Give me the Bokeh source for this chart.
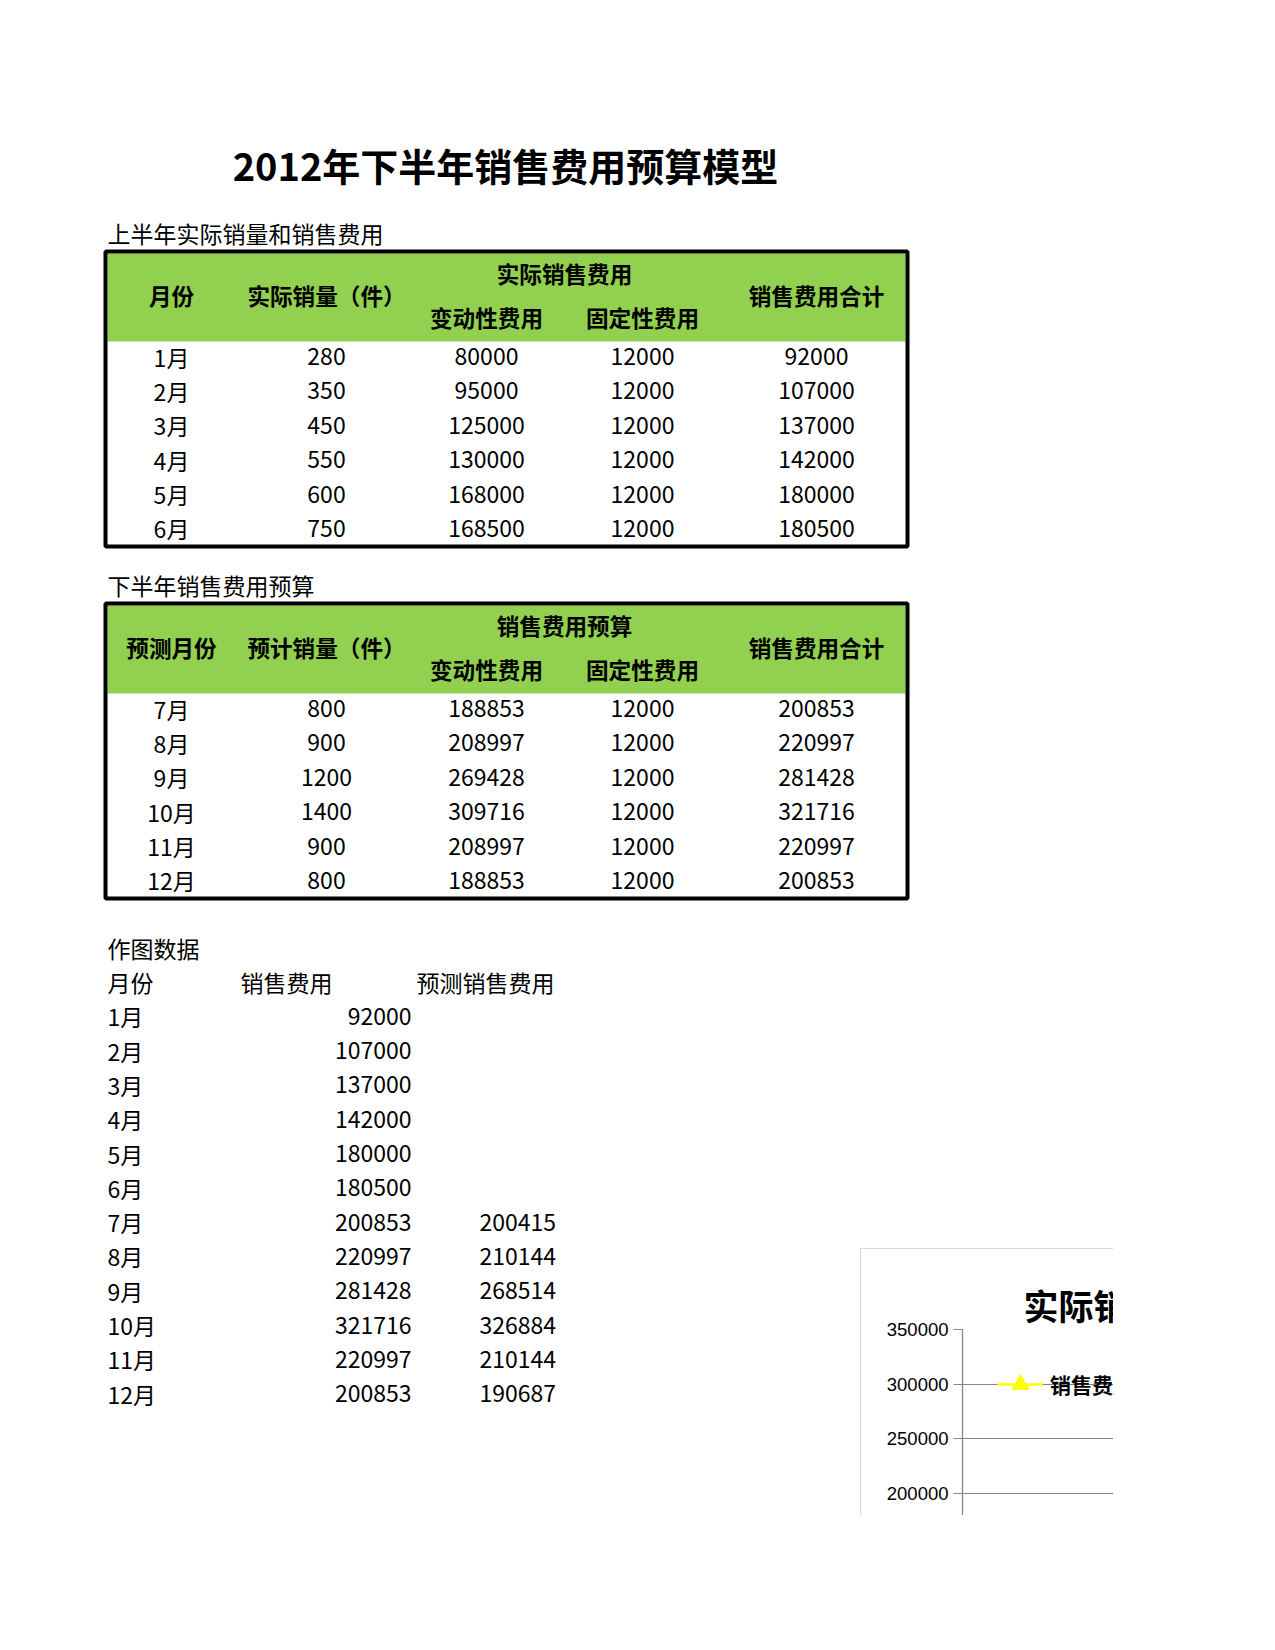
from bokeh.plotting import figure
from bokeh.layouts import column, row
from bokeh.models import (Range1d, ColumnDataSource, Legend, LegendItem,
                          SingleIntervalTicker, NumeralTickFormatter)
from bokeh.core.properties import value
from bokeh.embed import file_html
from bokeh.resources import INLINE

# ---------------- data ----------------
title_text = "2012年下半年销售费用预算模型"
t1_label = "上半年实际销量和销售费用"
t2_label = "下半年销售费用预算"
chart_label = "作图数据"

h1_months = ["1月", "2月", "3月", "4月", "5月", "6月"]
h1_qty = [280, 350, 450, 550, 600, 750]
h1_var = [80000, 95000, 125000, 130000, 168000, 168500]
h1_fixed = [12000, 12000, 12000, 12000, 12000, 12000]
h1_total = [92000, 107000, 137000, 142000, 180000, 180500]

h2_months = ["7月", "8月", "9月", "10月", "11月", "12月"]
h2_qty = [800, 900, 1200, 1400, 900, 800]
h2_var = [188853, 208997, 269428, 309716, 208997, 188853]
h2_fixed = [12000, 12000, 12000, 12000, 12000, 12000]
h2_total = [200853, 220997, 281428, 321716, 220997, 200853]

forecast = [200415, 210144, 268514, 326884, 210144, 190687]

t1_headers = ["月份", "实际销量（件）", "实际销售费用", "变动性费用", "固定性费用", "销售费用合计"]
t2_headers = ["预测月份", "预计销量（件）", "销售费用预算", "变动性费用", "固定性费用", "销售费用合计"]
data_headers = ["月份", "销售费用", "预测销售费用"]

series_names = ["销售费用", "预测销售费用"]
chart_title = "实际销售费用与预测销售费用对比"

all_months = h1_months + h2_months
all_sales = h1_total + h2_total

# ---------------- layout constants ----------------
FONT = "Noto Sans CJK SC"
GREEN = "#92D050"
PAGE_W = 1200
PAGE_H = 1515
CHART_X0, CHART_Y0 = 860, 1248
CHART_W, CHART_H = 1113 - CHART_X0, PAGE_H - CHART_Y0
TEXT_DY = -2.7

page = figure(width=PAGE_W, height=PAGE_H, x_range=Range1d(0, PAGE_W), y_range=Range1d(PAGE_H, 0),
              output_backend="svg", toolbar_location=None, min_border=0,
              x_axis_location=None, y_axis_location=None)
page.grid.visible = False
page.outline_line_color = None


def put(p, xs, ys, texts, size, bold=False, align="center", dy=TEXT_DY):
    src = ColumnDataSource(dict(x=xs, y=[y + dy for y in ys], t=[str(t) for t in texts]))
    p.text(x="x", y="y", text="t", source=src, text_font=value(FONT),
           text_font_size=value(f"{size}px"),
           text_font_style="bold" if bold else "normal",
           text_align=align, text_baseline="middle", text_color="#000000")


# title
put(page, [505], [164], [title_text], 38, bold=True, dy=0)

COLS = [171, 326, 486, 642, 816]
ROW_H = 34.35


def table(p, dy, label, headers, months, qty, var, fixed, total):
    put(p, [107], [235.5 + dy], [label], 23, align="left")
    p.quad(left=[107], right=[905], top=[253 + dy], bottom=[341 + dy],
           fill_color=GREEN, line_color=None)
    p.quad(left=[105], right=[907], top=[251 + dy], bottom=[546 + dy],
           fill_color=None, line_color="#000000", line_width=4)
    hx = [COLS[0], COLS[1], (COLS[2] + COLS[3]) / 2, COLS[2], COLS[3], COLS[4]]
    hy = [298, 298, 276, 320, 320, 298]
    put(p, hx, [y + dy for y in hy], headers, 22.6, bold=True)
    n = len(months)
    ys = [358.8 + dy + i * ROW_H for i in range(n)]
    for cx, vals in zip(COLS, [months, qty, var, fixed, total]):
        put(p, [cx] * n, ys, vals, 23)


table(page, 0, t1_label, t1_headers, h1_months, h1_qty, h1_var, h1_fixed, h1_total)
table(page, 352, t2_label, t2_headers, h2_months, h2_qty, h2_var, h2_fixed, h2_total)

# chart data block
put(page, [107], [950], [chart_label], 23, align="left")
put(page, [107, 240, 416], [984] * 3, data_headers, 23, align="left")
n_all = len(all_months)
ys_data = [1018.5 + i * 34.3 for i in range(n_all)]
put(page, [107] * n_all, ys_data, all_months, 23, align="left")
put(page, [411] * n_all, ys_data, all_sales, 23, align="right")
k = len(h1_months)
put(page, [555.5] * len(forecast), ys_data[k:], forecast, 23, align="right")

# ---------------- chart (clipped at page edge) ----------------
ch = figure(width=CHART_W, height=CHART_H, x_range=Range1d(0, 2.9),
            y_range=Range1d(179000, 350000), output_backend="svg", toolbar_location=None,
            x_axis_location=None, min_border_left=101, min_border_top=80,
            min_border_right=0, min_border_bottom=0, title=chart_title)
ch.outline_line_color = None
ch.margin = (-CHART_H, 0, 0, CHART_X0)
ch.styles = {"border-top": "1.5px solid #D9D9D9", "border-left": "1.5px solid #D9D9D9"}
ch.title.align = "left"
ch.title.offset = 61
ch.title.standoff = 0
ch.title.text_font = FONT
ch.title.text_font_size = "35px"
ch.title.text_font_style = "bold"
ch.title.text_color = "#000000"

ya = ch.yaxis[0]
ya.ticker = SingleIntervalTicker(interval=50000)
ya.formatter = NumeralTickFormatter(format="0")
ya.axis_line_color = "#868686"
ya.axis_line_width = 1.3
ya.major_tick_line_color = "#868686"
ya.major_tick_in = 0
ya.major_tick_out = 9
ya.minor_tick_line_color = None
ya.major_label_standoff = 5
ya.major_label_text_font = "Liberation Sans"
ya.major_label_text_font_size = "18.5px"
ya.major_label_text_color = "#000000"
ch.ygrid.grid_line_color = "#868686"
ch.ygrid.grid_line_width = 1.2
ch.xgrid.visible = False

xs = [i + 0.5 for i in range(n_all)]
xs_fc = xs[k:]
l1 = ch.line(xs, all_sales, line_color="#FFFF00", line_width=2.7)
m1 = ch.scatter(xs, all_sales, marker="triangle", size=17, fill_color="#FFFF00", line_color="#FFFF00")
l2 = ch.line(xs_fc, forecast, line_color="#FF0000", line_width=2.7)
m2 = ch.scatter(xs_fc, forecast, marker="square", size=12, fill_color="#FF0000", line_color="#FF0000")

legend = Legend(items=[LegendItem(label=series_names[0], renderers=[l1, m1]),
                       LegendItem(label=series_names[1], renderers=[l2, m2])],
                location=(35, 111), orientation="horizontal", glyph_width=46, glyph_height=42,
                label_standoff=7, padding=0, margin=0, spacing=20,
                background_fill_alpha=0, border_line_alpha=0,
                label_text_font=FONT, label_text_font_size="21px",
                label_text_font_style="bold", label_text_color="#000000")
ch.add_layout(legend)

layout = column(page, row(ch))
open("out.html", "w").write(file_html(layout, INLINE, "2012年下半年销售费用预算模型"))
